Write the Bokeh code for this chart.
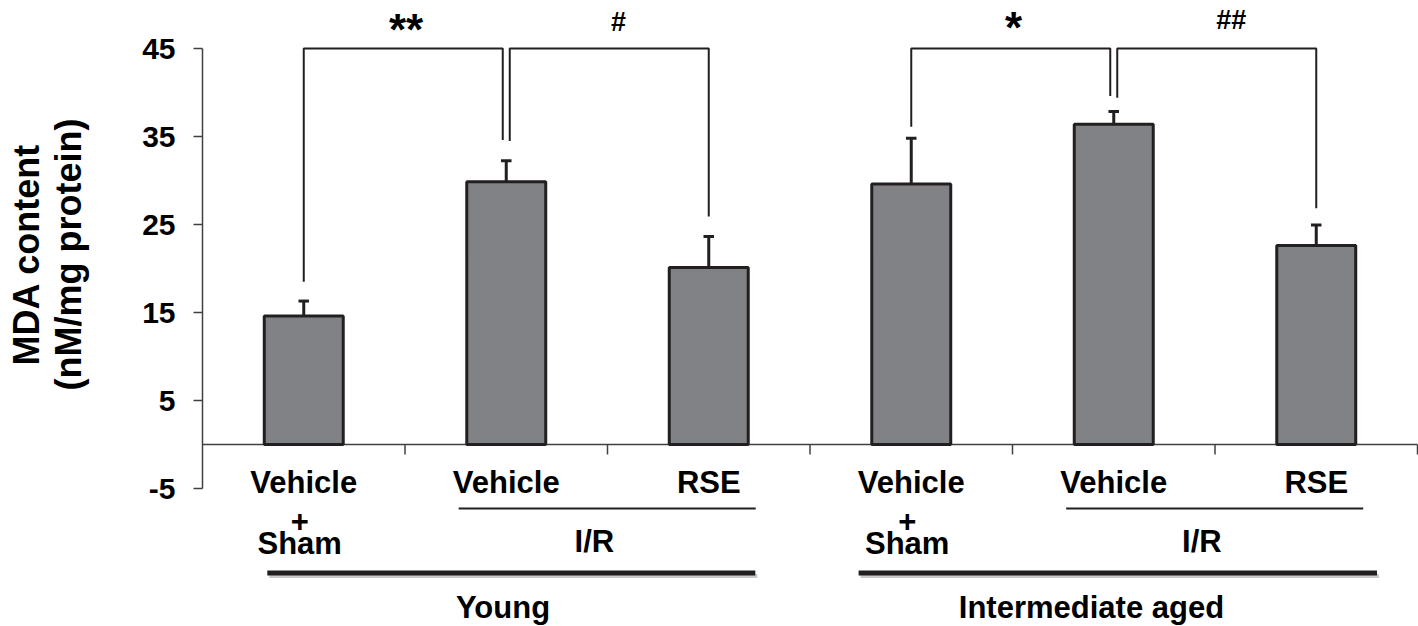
import numpy as np
from bokeh.plotting import figure
from bokeh.layouts import row
from bokeh.models import Range1d, FixedTicker, ColumnDataSource, PrintfTickFormatter
from bokeh.core.properties import value
from bokeh.embed import file_html
from bokeh.resources import INLINE

# ---------------- data ----------------
groups = ["Young", "Intermediate aged"]
row1_labels = ["Vehicle", "Vehicle", "RSE", "Vehicle", "Vehicle", "RSE"]
sham_bars = [0, 3]            # "Vehicle + Sham" bars
ir_pairs = [(1, 2), (4, 5)]   # bars under the "I/R" line
mda_mean = [14.6, 29.85, 20.1, 29.6, 36.4, 22.6]
mda_sem = [1.7, 2.4, 3.55, 5.2, 1.45, 2.35]
y_ticks = [-5, 5, 15, 25, 35, 45]
y_title = ["MDA content", "(nM/mg protein)"]

# significance brackets
sig_left = [0, 1, 3, 4]
sig_right = [1, 2, 4, 5]
sig_text = ["**", "#", "*", "##"]
sig_left_bottom = [18.5, 34.5, 36.1, 39.4]
sig_right_bottom = [34.6, 25.9, 39.6, 26.85]
sig_top = 45

# ---------------- layout ----------------
W, H = 1418, 626
TITLE_W = 100                   # width of the y-title strip
AXIS_X = 202                    # page x of the y axis
PX_CAT = 202.5
PX_UNIT = 8.8
TOP45 = 48                      # canvas px of value 45
ZERO = TOP45 + 45 * PX_UNIT     # canvas px of value 0

MAIN_W = W - TITLE_W
FRAME_LEFT = AXIS_X - TITLE_W

x_start = -0.5
x_end = -0.5 + (MAIN_W - FRAME_LEFT) / PX_CAT
y_end = 45 + TOP45 / PX_UNIT
y_start = y_end - H / PX_UNIT


def yd(px):  # canvas y px -> data y
    return (ZERO - px) / PX_UNIT


FONT = "Liberation Sans"
DARK = "#231f20"
AX = "#404040"

# ---- y-title strip ----
t = figure(width=TITLE_W, height=H, x_range=Range1d(0, TITLE_W), y_range=Range1d(H, 0),
           output_backend="svg", toolbar_location=None, x_axis_type=None, y_axis_type=None,
           min_border=0)
t.grid.visible = False
t.outline_line_color = None
t.text(x=[26, 68], y=[254, 254], text=y_title, angle=np.pi / 2, text_align="center",
       text_baseline="middle", text_font=value(FONT), text_font_style="bold",
       text_font_size=value("36px"), text_color="black")

# ---- main chart ----
p = figure(width=MAIN_W, height=H, x_range=Range1d(x_start, x_end),
           y_range=Range1d(y_start, y_end), output_backend="svg",
           toolbar_location=None, x_axis_type=None,
           min_border_left=FRAME_LEFT, min_border_right=0,
           min_border_top=0, min_border_bottom=0)
p.grid.visible = False
p.outline_line_color = None
p.background_fill_color = "white"
p.border_fill_color = "white"

yax = p.yaxis[0]
yax.ticker = FixedTicker(ticks=y_ticks)
yax.formatter = PrintfTickFormatter(format="%d")
yax.bounds = (y_ticks[0], y_ticks[-1])
yax.major_tick_out = 9
yax.major_tick_in = 0
yax.minor_tick_line_color = None
yax.axis_line_color = AX
yax.axis_line_width = 1.5
yax.major_tick_line_color = AX
yax.major_tick_line_width = 1.5
yax.major_label_text_font = FONT
yax.major_label_text_font_style = "bold"
yax.major_label_text_font_size = "30px"
yax.major_label_text_color = "black"
yax.major_label_standoff = 18

n = len(mda_mean)
xs = list(range(n))

# x axis line at zero and boundary ticks
p.segment(x0=[-0.5], y0=[0], x1=[n - 0.5], y1=[0], line_color=AX, line_width=1.5)
bx = [i + 0.5 for i in range(n)]
p.segment(x0=bx, y0=[0] * n, x1=bx, y1=[-10 / PX_UNIT] * n, line_color=AX, line_width=1.5)

# bars
src = ColumnDataSource(dict(x=xs, top=mda_mean,
                            err_top=[m + s for m, s in zip(mda_mean, mda_sem)]))
p.vbar(x="x", top="top", bottom=0, width=0.39, source=src,
       fill_color="#808285", line_color=DARK, line_width=3)

# error bars (upper only)
p.segment(x0="x", y0="top", x1="x", y1="err_top", source=src, line_color=DARK, line_width=3)
cap = 0.026
p.segment(x0=[x - cap for x in xs], y0=src.data["err_top"],
          x1=[x + cap for x in xs], y1=src.data["err_top"], line_color=DARK, line_width=3)

# significance brackets
d = 3.5 / PX_CAT
bxs, bys = [], []
for i in range(len(sig_left)):
    l, r = sig_left[i], sig_right[i]
    xl = l + (d if l in sig_right else 0)
    xr = r - (d if r in sig_left else 0)
    bxs.append([xl, xl, xr, xr])
    bys.append([sig_left_bottom[i], sig_top, sig_top, sig_right_bottom[i]])
p.multi_line(xs=bxs, ys=bys, line_color=DARK, line_width=2)

sig_dx = [0.005, 0.054, 0.005, 0.08]
sig_y_px = [29, 21, 26.5, 19]
for i, s in enumerate(sig_text):
    xm = (sig_left[i] + sig_right[i]) / 2 + sig_dx[i]
    star = "*" in s
    p.text(x=[xm], y=[yd(sig_y_px[i])], text=[s], text_align="center",
           text_baseline="middle", text_font=value(FONT), text_font_style="bold",
           text_font_size=value("44px" if star else "27px"), text_color="black")

# category labels
lab_kw = dict(text_align="center", text_baseline="middle", text_font=value(FONT),
              text_font_style="bold", text_font_size=value("31px"), text_color="black")
p.text(x=xs, y=[yd(482)] * n, text=row1_labels, **lab_kw)
p.text(x=[b - 0.02 for b in sham_bars], y=[yd(520)] * len(sham_bars),
       text=["+"] * len(sham_bars), **lab_kw)
p.text(x=[b - 0.02 for b in sham_bars], y=[yd(543)] * len(sham_bars),
       text=["Sham"] * len(sham_bars), **lab_kw)

# I/R thin lines and labels
ir_x0 = [a - 0.235 for a, b in ir_pairs]
ir_x1 = [b + 0.232 for a, b in ir_pairs]
p.segment(x0=ir_x0, y0=[yd(508)] * 2, x1=ir_x1, y1=[yd(508)] * 2, line_color=DARK, line_width=2)
p.text(x=[(a + b) / 2 - 0.065 for a, b in ir_pairs], y=[yd(541)] * 2, text=["I/R"] * 2, **lab_kw)

# group thick lines (with soft shadow) and group names
grp_x0 = [sham_bars[0] - 0.18, sham_bars[1] - 0.26]
grp_x1 = [ir_pairs[0][1] + 0.23, ir_pairs[1][1] + 0.30]
p.segment(x0=[x + 0.01 for x in grp_x0], y0=[yd(575.5)] * 2, x1=[x + 0.01 for x in grp_x1],
          y1=[yd(575.5)] * 2, line_color="#c9c9c9", line_width=4)
p.segment(x0=grp_x0, y0=[yd(572.5)] * 2, x1=grp_x1, y1=[yd(572.5)] * 2,
          line_color=DARK, line_width=5)
p.text(x=[0.984, 3.89], y=[yd(607)] * 2, text=groups, **lab_kw)

layout = row(t, p, spacing=0)
open("out.html", "w").write(file_html(layout, INLINE))
